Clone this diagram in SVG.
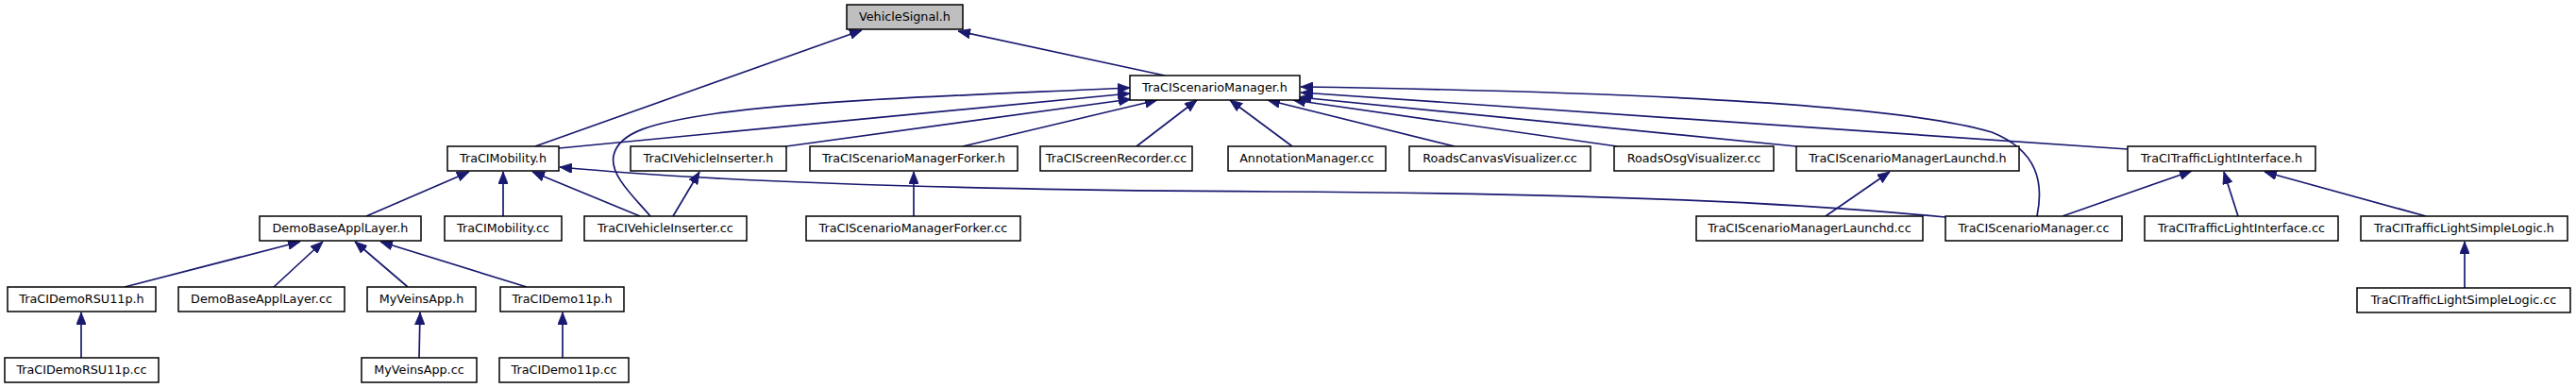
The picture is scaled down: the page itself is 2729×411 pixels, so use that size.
<svg xmlns="http://www.w3.org/2000/svg" width="2729" height="411" viewBox="0 0 2729 411">
<style>
.n rect{fill:#fff;stroke:#000;stroke-width:1.5}
.n text{font-family:"DejaVu Sans",sans-serif;font-size:12.75px;text-anchor:middle;fill:#000}
#edges path{fill:none;stroke:#191970;stroke-width:1.7;marker-end:url(#ah)}
</style>
<defs>
<marker id="ah" markerUnits="userSpaceOnUse" viewBox="0 0 13 10.5" refX="13" refY="5.25" markerWidth="13" markerHeight="10.5" orient="auto">
<path d="M0,0 L13,5.25 L0,10.5 z" fill="#191970" stroke="#191970" stroke-width="0.8"/>
</marker>
</defs>
<rect width="2729" height="411" fill="#fff"/>
<g id="edges">
<path d="M567,155 L913,32"/>
<path d="M1234,80 L1015,33"/>
<path d="M592,157 L1197,99"/>
<path d="M689,229 C670,207 646,185 650,165 C655,140 690,130 760,120 C870,105 1050,100 1197,93"/>
<path d="M833,155 L1198,105"/>
<path d="M1020,155 L1226,106"/>
<path d="M1204,155 L1268,106"/>
<path d="M1369,155 L1303,106"/>
<path d="M1541,155 L1343,106"/>
<path d="M1713,155 L1370,106"/>
<path d="M1903,155 L1376,103"/>
<path d="M2254,158 L1378,98"/>
<path d="M2158,229 C2165,195 2160,160 2110,140 C2010,110 1720,97 1378,92"/>
<path d="M2061,230 C1900,215 1700,205 1350,203 C1000,201 750,192 593,177"/>
<path d="M388,229 L497,182"/>
<path d="M533,229 L533,182"/>
<path d="M678,229 L564,182"/>
<path d="M713,229 L741,182"/>
<path d="M968,229 L968,182"/>
<path d="M1934,229 L2002,182"/>
<path d="M2185,229 L2322,181"/>
<path d="M2371,229 L2356,182"/>
<path d="M2570,229 L2399,182"/>
<path d="M2611,305 L2611,256"/>
<path d="M132,304 L318,256"/>
<path d="M290,304 L342,256"/>
<path d="M432,304 L376,256"/>
<path d="M558,304 L403,256"/>
<path d="M86,379 L86,331"/>
<path d="M444,379 L445,331"/>
<path d="M596,379 L596,331"/>
</g>
<g id="n1" class="n"><rect x="897" y="5" width="123" height="26" style="fill:#bfbfbf"/><text x="958.5" y="21.5">VehicleSignal.h</text></g>
<g id="n2" class="n"><rect x="1197" y="80" width="180" height="26"/><text x="1287" y="96.5">TraCIScenarioManager.h</text></g>
<g id="n3" class="n"><rect x="474" y="155" width="118" height="26"/><text x="533" y="171.5">TraCIMobility.h</text></g>
<g id="n4" class="n"><rect x="668" y="155" width="165" height="26"/><text x="750.5" y="171.5">TraCIVehicleInserter.h</text></g>
<g id="n5" class="n"><rect x="858" y="155" width="220" height="26"/><text x="968" y="171.5">TraCIScenarioManagerForker.h</text></g>
<g id="n6" class="n"><rect x="1102" y="155" width="161" height="26"/><text x="1182.5" y="171.5">TraCIScreenRecorder.cc</text></g>
<g id="n7" class="n"><rect x="1301" y="155" width="167" height="26"/><text x="1384.5" y="171.5">AnnotationManager.cc</text></g>
<g id="n8" class="n"><rect x="1493" y="155" width="192" height="26"/><text x="1589" y="171.5">RoadsCanvasVisualizer.cc</text></g>
<g id="n9" class="n"><rect x="1710" y="155" width="169" height="26"/><text x="1794.5" y="171.5">RoadsOsgVisualizer.cc</text></g>
<g id="n10" class="n"><rect x="1903" y="155" width="236" height="26"/><text x="2021" y="171.5">TraCIScenarioManagerLaunchd.h</text></g>
<g id="n11" class="n"><rect x="2254" y="155" width="199" height="26"/><text x="2353.5" y="171.5">TraCITrafficLightInterface.h</text></g>
<g id="n12" class="n"><rect x="275" y="229" width="171" height="26"/><text x="360.5" y="245.5">DemoBaseApplLayer.h</text></g>
<g id="n13" class="n"><rect x="471" y="229" width="124" height="26"/><text x="533" y="245.5">TraCIMobility.cc</text></g>
<g id="n14" class="n"><rect x="619" y="229" width="172" height="26"/><text x="705" y="245.5">TraCIVehicleInserter.cc</text></g>
<g id="n15" class="n"><rect x="854" y="229" width="227" height="26"/><text x="967.5" y="245.5">TraCIScenarioManagerForker.cc</text></g>
<g id="n16" class="n"><rect x="1797" y="229" width="240" height="26"/><text x="1917" y="245.5">TraCIScenarioManagerLaunchd.cc</text></g>
<g id="n17" class="n"><rect x="2061" y="229" width="187" height="26"/><text x="2154.5" y="245.5">TraCIScenarioManager.cc</text></g>
<g id="n18" class="n"><rect x="2272" y="229" width="205" height="26"/><text x="2374.5" y="245.5">TraCITrafficLightInterface.cc</text></g>
<g id="n19" class="n"><rect x="2501" y="229" width="219" height="26"/><text x="2610.5" y="245.5">TraCITrafficLightSimpleLogic.h</text></g>
<g id="n20" class="n"><rect x="8" y="304" width="157" height="26"/><text x="86.5" y="320.5">TraCIDemoRSU11p.h</text></g>
<g id="n21" class="n"><rect x="189" y="304" width="176" height="26"/><text x="277" y="320.5">DemoBaseApplLayer.cc</text></g>
<g id="n22" class="n"><rect x="389" y="304" width="115" height="26"/><text x="446.5" y="320.5">MyVeinsApp.h</text></g>
<g id="n23" class="n"><rect x="530" y="304" width="131" height="26"/><text x="595.5" y="320.5">TraCIDemo11p.h</text></g>
<g id="n24" class="n"><rect x="2497" y="305" width="226" height="26"/><text x="2610" y="321.5">TraCITrafficLightSimpleLogic.cc</text></g>
<g id="n25" class="n"><rect x="5" y="379" width="163" height="26"/><text x="86.5" y="395.5">TraCIDemoRSU11p.cc</text></g>
<g id="n26" class="n"><rect x="383" y="379" width="122" height="26"/><text x="444" y="395.5">MyVeinsApp.cc</text></g>
<g id="n27" class="n"><rect x="529" y="379" width="137" height="26"/><text x="597.5" y="395.5">TraCIDemo11p.cc</text></g>
</svg>
